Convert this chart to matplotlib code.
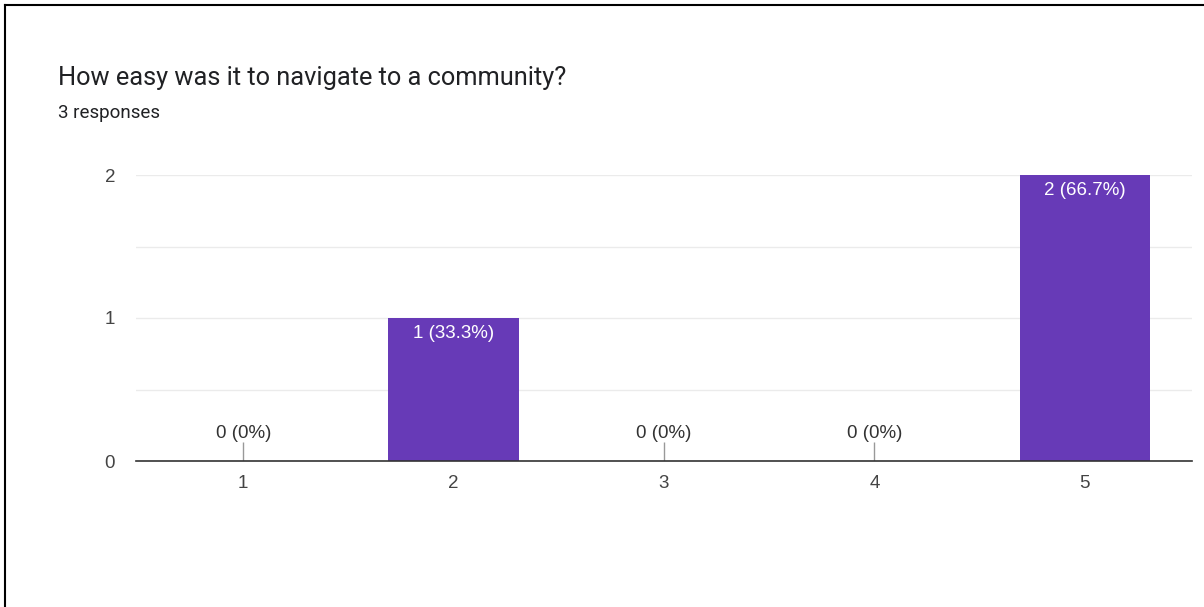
import matplotlib
matplotlib.use("Agg")
import matplotlib.pyplot as plt
from matplotlib.lines import Line2D
import numpy as np

plt.rcParams['font.family'] = ['Roboto', 'DejaVu Sans']

# data
title = "How easy was it to navigate to a community?"
subtitle = "3 responses"
categories = ["1", "2", "3", "4", "5"]
counts = [0, 1, 0, 0, 2]
percents = ["0%", "33.3%", "0%", "0%", "66.7%"]

PURPLE = "#673ab7"
CHART_FONT = ['Liberation Sans', 'DejaVu Sans']

fig = plt.figure(figsize=(12.04, 6.07), dpi=100)
W, H = 1204, 607
# axes box in pixels: left 136, right 1192, top 175, bottom 461
ax = fig.add_axes([136 / W, 1 - 461 / H, (1192 - 136) / W, (461 - 175) / H])

x = np.arange(1, len(categories) + 1)
ax.bar(x, counts, width=0.62, color=PURPLE, zorder=3)

ax.set_xlim(0.49, 5.51)
ax.set_ylim(0, 2)
ax.set_yticks([0, 1, 2])
ax.set_yticks([0.5, 1.5], minor=True)
ax.set_xticks(x)
ax.set_xticklabels(categories)
for lbl in ax.get_xticklabels() + ax.get_yticklabels():
    lbl.set_family(CHART_FONT)

ax.grid(axis="y", which="both", color="#ebebeb", linewidth=1, zorder=0)
for side in ["top", "right", "left"]:
    ax.spines[side].set_visible(False)
ax.spines["bottom"].set_color("#333333")
ax.spines["bottom"].set_linewidth(1.2)
ax.spines["bottom"].set_zorder(4)
ax.tick_params(axis="both", which="both", length=0, labelsize=13.5, colors="#444444")
ax.tick_params(axis="x", pad=10)
ax.tick_params(axis="y", pad=15)

# value labels
for xi, c, p in zip(x, counts, percents):
    label = f"{c} ({p})"
    if c == 0:
        ax.vlines(xi, 0, 0.13, color="#999999", linewidth=1, zorder=4)
        ax.text(xi, 0.135, label, ha="center", va="bottom", fontsize=13.5,
                color="#333333", family=CHART_FONT)
    else:
        ax.text(xi, c - 0.05, label, ha="center", va="top", fontsize=13.5,
                color="white", zorder=5, family=CHART_FONT)

# titles
fig.text(58 / W, 1 - 78 / H, title, ha="left", va="center", fontsize=18.3, color="#202124")
fig.text(58 / W, 1 - 113 / H, subtitle, ha="left", va="center", fontsize=13.5, color="#202124")

# card border (left and top edges)
fig.add_artist(Line2D([5 / W, 5 / W], [0, 1 - 5 / H], color="black", linewidth=1.5, transform=fig.transFigure))
fig.add_artist(Line2D([5 / W, 1], [1 - 5 / H, 1 - 5 / H], color="black", linewidth=1.5, transform=fig.transFigure))

fig.savefig("out.png", dpi=100)
